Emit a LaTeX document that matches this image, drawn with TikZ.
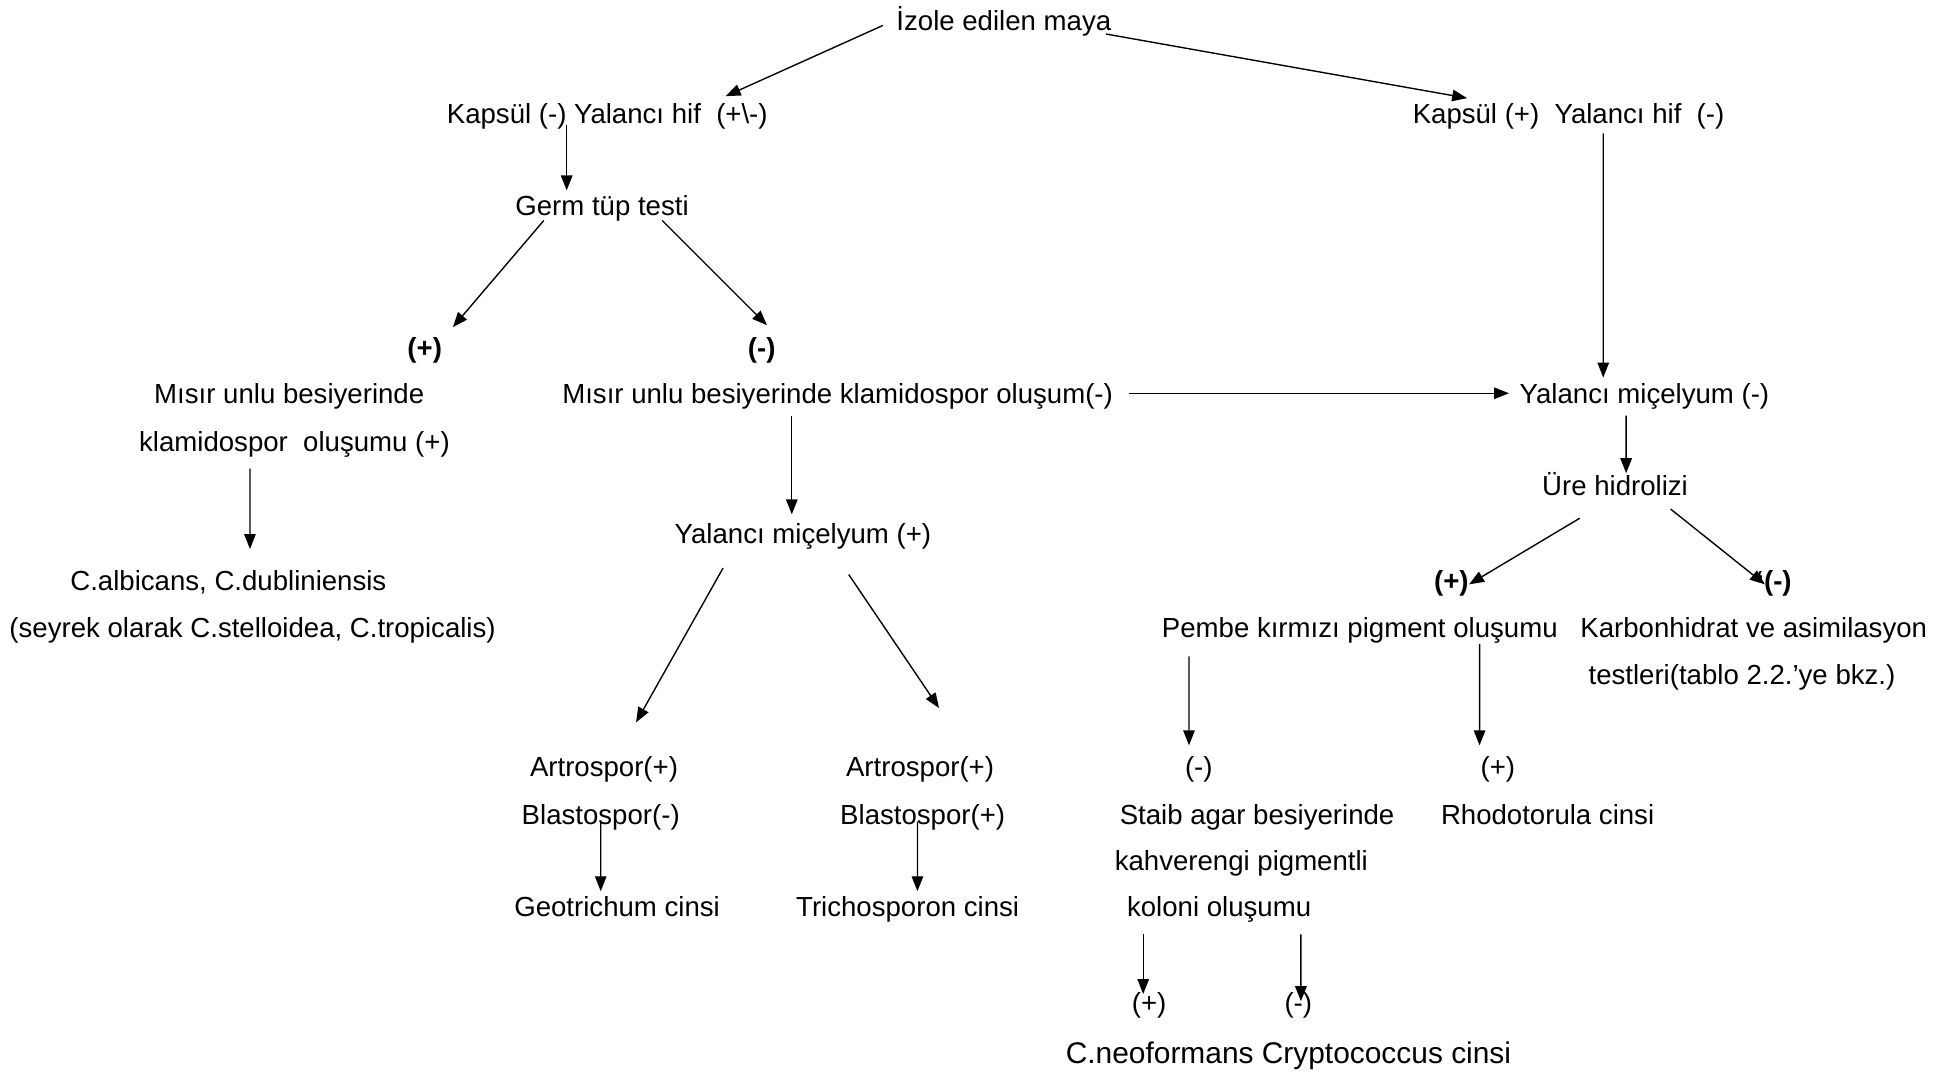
\documentclass[tikz,border=0pt]{standalone}
\usepackage{fontspec}
\setmainfont{Liberation Sans}
\usetikzlibrary{arrows.meta}

\tikzset{
  lbl/.style={inner sep=0pt,text height=11.2pt,text depth=2.5pt,font=\fontsize{12}{14}\selectfont},
  sgn/.style={lbl,font=\fontsize{12}{14}\selectfont\bfseries},
  arr/.style={-{Triangle[length=6.5pt,width=5pt]},line width=0.6pt},
}

\begin{document}
\begin{tikzpicture}[x=1cm,y=1cm,>=Stealth]
\useasboundingbox (0,0) rectangle (29.83,16.40);
% ust kisim
\node[lbl] (izole) at (15.34,16.09) {İzole edilen maya};
\node[lbl] (kapneg) at (9.28,14.67) {Kapsül (-) Yalancı hif\ \ (+\textbackslash-)};
\node[lbl] (kappos) at (23.97,14.67) {Kapsül (+)\ \ Yalancı hif\ \ (-)};
\node[lbl] (germ) at (9.20,13.26) {Germ tüp testi};
\node[sgn] (gpos) at (6.49,11.09) {(+)};
\node[sgn] (gneg) at (11.64,11.09) {(-)};
\node[lbl] (misirpos) at (4.42,10.39) {Mısır unlu besiyerinde};
\node[lbl] (klamipos) at (4.50,9.66) {klamidospor\ \ oluşumu (+)};
\node[lbl] (misirneg) at (12.80,10.39) {Mısır unlu besiyerinde klamidospor oluşum(-)};
\node[lbl] (ymneg) at (25.13,10.39) {Yalancı miçelyum (-)};
\node[lbl] (ure) at (24.68,8.98) {Üre hidrolizi};
\node[lbl] (ympos) at (12.27,8.24) {Yalancı miçelyum (+)};
\node[lbl] (albicans) at (3.49,7.53) {C.albicans, C.dubliniensis};
\node[lbl] (seyrek) at (3.86,6.81) {(seyrek olarak C.stelloidea, C.tropicalis)};
\node[sgn] (upos) at (22.18,7.53) {(+)};
\node[sgn] (uneg) at (27.11,7.53) {‘(-)};
\node[lbl] (pembe) at (20.78,6.81) {Pembe kırmızı pigment oluşumu};
\node[lbl] (karbon) at (26.80,6.81) {Karbonhidrat ve asimilasyon};
\node[lbl] (testler) at (26.62,6.10) {testleri(tablo 2.2.’ye bkz.)};
% alt kisim
\node[lbl] (artneg) at (9.23,4.68) {Artrospor(+)};
\node[lbl] (blastneg) at (9.18,3.96) {Blastospor(-)};
\node[lbl] (geo) at (9.43,2.55) {Geotrichum cinsi};
\node[lbl] (artpos) at (14.06,4.68) {Artrospor(+)};
\node[lbl] (blastpos) at (14.10,3.96) {Blastospor(+)};
\node[lbl] (tricho) at (13.87,2.55) {Trichosporon cinsi};
\node[lbl] (pneg) at (18.32,4.68) {(-)};
\node[lbl] (ppos) at (22.89,4.68) {(+)};
\node[lbl] (staib) at (19.21,3.96) {Staib agar besiyerinde};
\node[lbl] (rhodo) at (23.65,3.96) {Rhodotorula cinsi};
\node[lbl] (kahve) at (18.97,3.25) {kahverengi pigmentli};
\node[lbl] (koloni) at (18.63,2.55) {koloni oluşumu};
\node[lbl] (kpos) at (17.56,1.08) {(+)};
\node[lbl] (kneg) at (19.84,1.08) {(-)};
\node[lbl,font=\fontsize{13}{15}\selectfont] (neo) at (19.69,0.30) {C.neoformans Cryptococcus cinsi};
% oklar
\draw[arr] ([shift={(-1.85,-0.08)}]izole.center) -- ([shift={(1.81,0.26)}]kapneg.center);
\draw[arr] ([shift={(1.56,-0.21)}]izole.center) -- ([shift={(-1.55,0.23)}]kappos.center);
\draw[arr] ([shift={(-0.62,-0.18)}]kapneg.center) -- ([shift={(-0.54,0.23)}]germ.center);
\draw[arr] ([shift={(-0.89,-0.23)}]germ.center) -- ([shift={(0.43,0.31)}]gpos.center);
\draw[arr] ([shift={(0.92,-0.23)}]germ.center) -- ([shift={(0.08,0.34)}]gneg.center);
\draw[arr] ([shift={(0.53,-0.31)}]kappos.center) -- ([shift={(-0.63,0.24)}]ymneg.center);
\draw[arr] ([shift={(4.45,0)}]misirneg.center) -- ([shift={(-2.07,0)}]ymneg.center);
\draw[arr] ([shift={(-0.28,-0.34)}]ymneg.center) -- ([shift={(0.17,0.19)}]ure.center);
\draw[arr] ([shift={(-0.68,-0.42)}]klamipos.center) -- ([shift={(0.33,0.48)}]albicans.center);
\draw[arr] ([shift={(-0.70,-0.34)}]misirneg.center) -- ([shift={(-0.17,0.30)}]ympos.center);
\draw[arr] ([shift={(-0.54,-0.50)}]ure.center) -- ([shift={(0.27,-0.06)}]upos.center);
\draw[arr] ([shift={(0.85,-0.36)}]ure.center) -- ([shift={(-0.14,-0.06)}]uneg.center);
\draw[arr] ([shift={(-1.22,-0.52)}]ympos.center) -- ([shift={(0.49,0.68)}]artneg.center);
\draw[arr] ([shift={(0.70,-0.62)}]ympos.center) -- ([shift={(0.29,0.90)}]artpos.center);
\draw[arr] ([shift={(-2.61,-0.44)}]pembe.center) -- ([shift={(-0.15,0.33)}]pneg.center);
\draw[arr] ([shift={(1.83,-0.25)}]pembe.center) -- ([shift={(-0.28,0.33)}]ppos.center);
\draw[arr] ([shift={(0,-0.12)}]blastneg.center) -- ([shift={(-0.25,0.23)}]geo.center);
\draw[arr] ([shift={(-0.08,-0.12)}]blastpos.center) -- ([shift={(0.15,0.23)}]tricho.center);
\draw[arr] ([shift={(-1.16,-0.43)}]koloni.center) -- ([shift={(-0.09,0.13)}]kpos.center);
\draw[arr] ([shift={(1.25,-0.43)}]koloni.center) -- ([shift={(0.04,0.02)}]kneg.center);
\end{tikzpicture}
\end{document}
